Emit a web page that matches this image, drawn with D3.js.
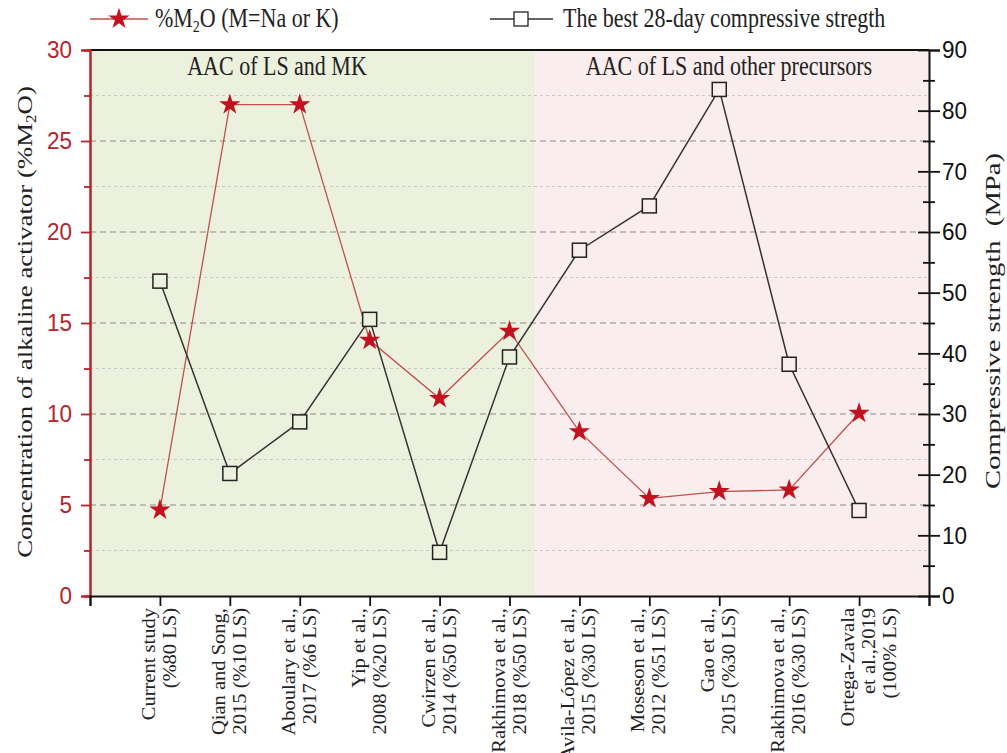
<!DOCTYPE html>
<html><head><meta charset="utf-8">
<script src="https://cdn.jsdelivr.net/npm/d3@7/dist/d3.min.js"></script>
<style>body{margin:0;background:#fff}svg{display:block}</style>
</head><body>
<svg id="c" width="1007" height="753"></svg>
<script>
const categories = [
  ["Current study","(%80 LS)"],
  ["Qian and Song,","2015 (%10 LS)"],
  ["Aboulary et al.,","2017 (%6 LS)"],
  ["Yip et al.,","2008 (%20 LS)"],
  ["Cwirzen et al.,","2014 (%50 LS)"],
  ["Rakhimova et al.,","2018 (%50 LS)"],
  ["Avila-López et al.,","2015 (%30 LS)"],
  ["Moseson et al.,","2012 (%51 LS)"],
  ["Gao et al.,","2015 (%30 LS)"],
  ["Rakhimova et al.,","2016 (%30 LS)"],
  ["Ortega-Zavala","et al.,2019","(100% LS)"]
];
const m2o = [4.73, 27.0, 27.0, 14.05, 10.85, 14.55, 9.03, 5.36, 5.74, 5.83, 10.04];
const strength = [51.9, 20.2, 28.7, 45.6, 7.2, 39.4, 57.0, 64.3, 83.5, 38.2, 14.1];
const leftTicks = [0,5,10,15,20,25,30];
const leftMinor = [2.5,7.5,12.5,17.5,22.5,27.5];
const rightTicks = [0,10,20,30,40,50,60,70,80,90];
const rightMinor = [5,15,25,35,45,55,65,75,85];
const regions = [
  {label:"AAC of LS and MK", from:0, to:6.37, color:"#ecf1dd"},
  {label:"AAC of LS and other precursors", from:6.37, to:12, color:"#f9eded"}
];

const svg = d3.select("#c");
const L=90, R=929, T=50, B=596;
const red = "#b5232b";
const x = d3.scaleLinear().domain([0, categories.length+1]).range([L, R]);
const yL = d3.scaleLinear().domain([0,30]).range([B, T]);
const yR = d3.scaleLinear().domain([0,90]).range([B, T]);
const serif = "'Liberation Serif','DejaVu Serif',serif";
const sans = "'Liberation Sans',Arial,sans-serif";

// backgrounds
svg.selectAll("rect.bg").data(regions).enter().append("rect")
  .attr("x", d=>x(d.from)).attr("y", T).attr("width", d=>x(d.to)-x(d.from)).attr("height", B-T)
  .attr("fill", d=>d.color);
svg.selectAll("text.reg").data(regions).enter().append("text")
  .attr("transform", (d,i)=> `translate(${i===0 ? 277 : 729},75) scale(1,1.2)`).attr("text-anchor","middle")
  .attr("font-family", serif).attr("font-size", 22).attr("fill","#222").text(d=>d.label);

// grid
svg.selectAll("line.minor").data(leftMinor).enter().append("line")
  .attr("x1", L).attr("x2", R).attr("y1", d=>yL(d)).attr("y2", d=>yL(d))
  .attr("stroke","#c8c8c8").attr("stroke-width",1).attr("stroke-dasharray","3,3");
svg.selectAll("line.major").data(leftTicks.filter(d=>d>0&&d<30)).enter().append("line")
  .attr("x1", L).attr("x2", R).attr("y1", d=>yL(d)).attr("y2", d=>yL(d))
  .attr("stroke","#8c8c8c").attr("stroke-width",1.2).attr("stroke-dasharray","6,4");

// lines
const lineL = d3.line().x((d,i)=>x(i+1)).y(d=>yL(d));
const lineR = d3.line().x((d,i)=>x(i+1)).y(d=>yR(d));
svg.append("path").attr("d", lineL(m2o)).attr("fill","none").attr("stroke","#c0504d").attr("stroke-width",1.3);
svg.append("path").attr("d", lineR(strength)).attr("fill","none").attr("stroke","#333").attr("stroke-width",1.5);

// markers
const star = d3.symbol().type(d3.symbolStar).size(140);
const bgAt = v => regions.find(r=>v>=r.from && v<=r.to).color;
svg.selectAll("rect.sq").data(strength).enter().append("rect")
  .attr("x",(d,i)=>x(i+1)-7).attr("y",d=>yR(d)-7).attr("width",14).attr("height",14)
  .attr("fill",(d,i)=>bgAt(i+1)).attr("stroke","#222").attr("stroke-width",1.5);
svg.selectAll("path.st").data(m2o).enter().append("path")
  .attr("d", star).attr("transform",(d,i)=>`translate(${x(i+1)},${yL(d)})`)
  .attr("fill","#c2121f");

// frame top
svg.append("line").attr("x1",L).attr("x2",R).attr("y1",T).attr("y2",T).attr("stroke","#111").attr("stroke-width",2);

// left axis
const gl = svg.append("g").attr("transform",`translate(${L},0)`);
gl.call(d3.axisLeft(yL).tickValues(leftTicks).tickSize(9).tickFormat(d3.format("d")));
gl.append("g").call(d3.axisLeft(yL).tickValues(leftMinor).tickSize(6).tickFormat(""));
gl.selectAll("path.domain").attr("stroke",red).attr("stroke-width",2);
gl.selectAll("line").attr("stroke",red).attr("stroke-width",1.8);
gl.selectAll(".tick text").attr("x",null).attr("transform","translate(-18,0) scale(1,1.1)")
  .attr("fill",red).attr("font-family",sans).attr("font-size",22.5);

// right axis
const gr = svg.append("g").attr("transform",`translate(${R},0)`);
gr.call(d3.axisRight(yR).tickValues(rightTicks).tickSize(11).tickFormat(d3.format("d")));
gr.selectAll(".tick line").attr("x1",-11);
const grm = gr.append("g").call(d3.axisRight(yR).tickValues(rightMinor).tickSize(6).tickFormat(""));
grm.selectAll(".tick line").attr("x1",-6);
grm.select("path.domain").remove();
gr.selectAll("path.domain").attr("stroke","#111").attr("stroke-width",2);
gr.selectAll("line").attr("stroke","#111").attr("stroke-width",1.8);
gr.selectAll(".tick text").attr("x",null).attr("transform","translate(13,0) scale(1,1.1)")
  .attr("fill","#111").attr("font-family",sans).attr("font-size",22.5);

// bottom axis
const gb = svg.append("g").attr("transform",`translate(0,${B})`);
gb.call(d3.axisBottom(x).tickValues(d3.range(0, categories.length+2)).tickSize(10).tickFormat(""));
gb.selectAll("path.domain").attr("stroke","#111").attr("stroke-width",2);
gb.selectAll("line").attr("stroke","#111").attr("stroke-width",1.8);

// category labels
categories.forEach((lines,i)=>{
  const cx = x(i+1);
  lines.forEach((t,j)=>{
    svg.append("text").attr("transform",`translate(${cx-5+j*21},${608}) scale(1,1.08) rotate(-90)`)
      .attr("text-anchor","end").attr("font-family",serif).attr("font-size",19).attr("fill","#222").text(t);
  });
});

// axis titles
const lt = svg.append("text").attr("transform","translate(32,322) scale(1,1.22) rotate(-90)").attr("text-anchor","middle")
  .attr("font-family",serif).attr("font-size",22).attr("fill","#222");
lt.append("tspan").text("Concentration of alkaline activator (%M");
lt.append("tspan").attr("font-size",14).attr("dy",4).text("2");
lt.append("tspan").attr("dy",-4).text("O)");
svg.append("text").attr("transform","translate(1000,321) scale(1,1.3) rotate(-90)").attr("text-anchor","middle")
  .attr("font-family",serif).attr("font-size",22).attr("fill","#222").attr("xml:space","preserve").text("Compressive strength  (MPa)");

// legend
const lg = svg.append("g");
lg.append("line").attr("x1",90).attr("x2",148).attr("y1",19).attr("y2",19).attr("stroke","#c0504d").attr("stroke-width",1.5);
lg.append("path").attr("d",star).attr("transform","translate(119,19)").attr("fill","#c2121f");
const l1 = lg.append("text").attr("transform","translate(155,27) scale(1,1.2)").attr("font-family",serif).attr("font-size",22).attr("fill","#222");
l1.append("tspan").text("%M");
l1.append("tspan").attr("font-size",14).attr("dy",4).text("2");
l1.append("tspan").attr("dy",-4).text("O (M=Na or K)");
lg.append("line").attr("x1",490).attr("x2",553).attr("y1",19).attr("y2",19).attr("stroke","#333").attr("stroke-width",1.5);
lg.append("rect").attr("x",514).attr("y",12).attr("width",14).attr("height",14).attr("fill","#fff").attr("stroke","#222").attr("stroke-width",1.3);
lg.append("text").attr("transform","translate(563,27) scale(1,1.2)").attr("font-family",serif).attr("font-size",22).attr("fill","#222").text("The best 28-day compressive stregth");
</script>
</body></html>
